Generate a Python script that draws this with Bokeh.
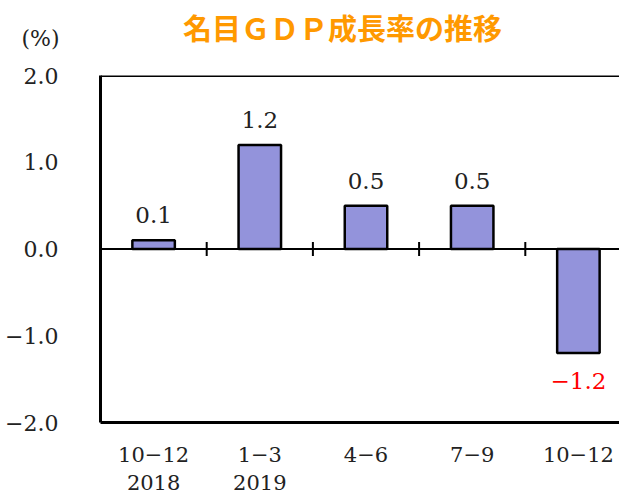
from bokeh.plotting import figure
from bokeh.layouts import column
from bokeh.models import Range1d, FixedTicker, Span, ColumnDataSource, LinearAxis
from bokeh.core.properties import value
from bokeh.embed import file_html
from bokeh.resources import INLINE

quarters = ["10\u221212\n2018", "1\u22123\n2019", "4\u22126", "7\u22129", "10\u221212"]
growth = [0.1, 1.2, 0.5, 0.5, -1.2]
growth_labels = ["0.1", "1.2", "0.5", "0.5", "\u22121.2"]
y_ticks = [-2.0, -1.0, 0.0, 1.0, 2.0]
y_tick_labels = ["\u22122.0", "\u22121.0", "0.0", "1.0", "2.0"]
title_text = "名目ＧＤＰ成長率の推移"
unit_text = "(%)"

SERIF = "DejaVu Serif"
W = 619
HEAD_H = 60
MAIN_H = 498 - HEAD_H
LEFT, TOP, BOTTOM = 100, 75 - HEAD_H, 76
cat_px = 106.2
xmax = (W - LEFT) / cat_px

# ---- header with title and unit ----
head = figure(width=W, height=HEAD_H, output_backend="svg", toolbar_location=None,
              x_range=Range1d(0, W - LEFT), y_range=Range1d(0, HEAD_H),
              x_axis_type=None, y_axis_type=None,
              min_border_left=LEFT, min_border_right=0, min_border_top=0, min_border_bottom=0)
head.outline_line_color = None
head.xgrid.visible = False
head.ygrid.visible = False
head.text(x=[342 - LEFT], y=[HEAD_H - 26], text=[title_text], text_font=value("Noto Sans CJK JP"),
          text_font_style="bold", text_font_size="29px", text_color="#ff9900",
          text_align="center", text_baseline="middle")
unit_axis = LinearAxis(ticker=FixedTicker(ticks=[HEAD_H - 38]),
                       major_label_overrides={HEAD_H - 38: unit_text},
                       axis_line_color=None, major_tick_line_color=None,
                       minor_tick_line_color=None, major_label_standoff=35,
                       major_label_text_font=SERIF, major_label_text_font_size="22px",
                       major_label_text_color="#222222")
head.add_layout(unit_axis, "left")

# ---- main chart ----
p = figure(width=W, height=MAIN_H, output_backend="svg", toolbar_location=None,
           x_range=Range1d(0, xmax), y_range=Range1d(-2, 2),
           min_border_left=LEFT, min_border_top=TOP, min_border_bottom=BOTTOM,
           min_border_right=0)
p.outline_line_color = None
p.xgrid.visible = False
p.ygrid.visible = False

xs = [i + 0.5 for i in range(len(quarters))]
src = ColumnDataSource(dict(x=xs, top=growth))
p.vbar(x="x", top="top", bottom=0, width=0.4, source=src,
       fill_color="#9393db", line_color="black", line_width=2.5)

# zero line, top border and boundary ticks
p.add_layout(Span(location=0, dimension="width", line_color="black", line_width=2))
p.add_layout(Span(location=2, dimension="width", line_color="black", line_width=3))
p.scatter(x=list(range(1, len(quarters))), y=[0] * (len(quarters) - 1),
          marker="dash", angle=1.5708, size=14, line_color="black", line_width=2)

# value labels
pos_src = ColumnDataSource(dict(x=[x for x, g in zip(xs, growth) if g >= 0],
                                y=[g for g in growth if g >= 0],
                                t=[l for l, g in zip(growth_labels, growth) if g >= 0]))
neg_src = ColumnDataSource(dict(x=[x for x, g in zip(xs, growth) if g < 0],
                                y=[g for g in growth if g < 0],
                                t=[l for l, g in zip(growth_labels, growth) if g < 0]))
p.text(x="x", y="y", text="t", source=pos_src, text_font=value(SERIF),
       text_font_size="23px", text_align="center", text_baseline="bottom",
       y_offset=-17, text_color="#222222")
p.text(x="x", y="y", text="t", source=neg_src, text_font=value(SERIF),
       text_font_size="23px", text_align="center", text_baseline="top",
       y_offset=20, text_color="#ff0000")

# axes
p.yaxis.ticker = FixedTicker(ticks=y_ticks)
p.yaxis.major_label_overrides = {t: l for t, l in zip(y_ticks, y_tick_labels)}
p.yaxis.major_tick_line_color = None
p.yaxis.minor_tick_line_color = None
p.yaxis.axis_line_width = 3
p.yaxis.major_label_text_font = SERIF
p.yaxis.major_label_text_font_size = "22px"
p.yaxis.major_label_text_color = "#222222"
p.yaxis.major_label_standoff = 36

p.xaxis.ticker = FixedTicker(ticks=xs)
p.xaxis.major_label_overrides = {x: q for x, q in zip(xs, quarters)}
p.xaxis.major_tick_line_color = None
p.xaxis.minor_tick_line_color = None
p.xaxis.axis_line_width = 3
p.xaxis.major_label_text_font = SERIF
p.xaxis.major_label_text_font_size = "21px"
p.xaxis.major_label_text_color = "#222222"
p.xaxis.major_label_standoff = 14

layout = column(head, p, spacing=0)
open("out.html", "w").write(file_html(layout, INLINE))
